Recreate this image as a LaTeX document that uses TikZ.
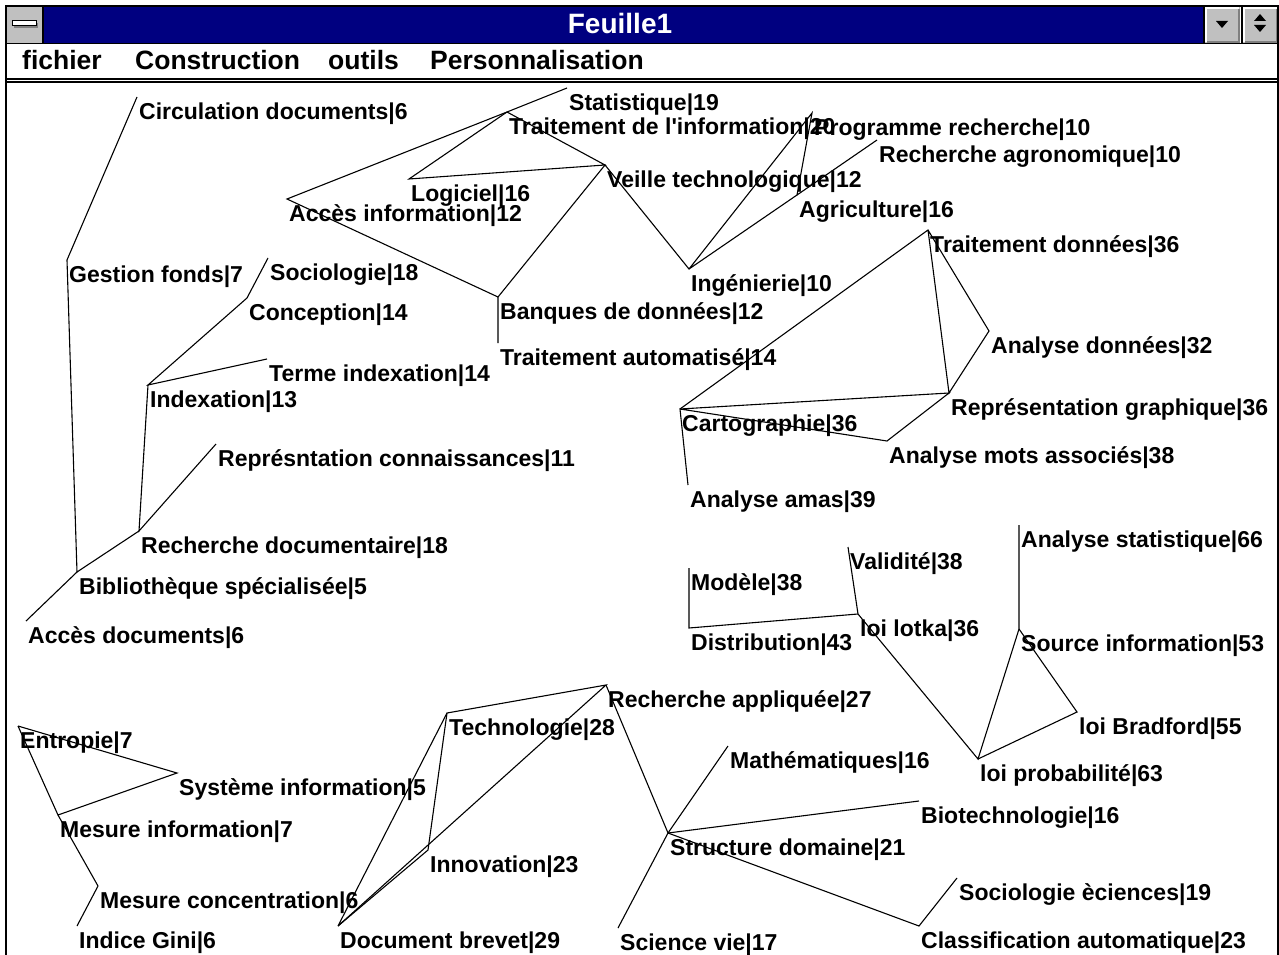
\documentclass[tikz,border=0pt]{standalone}
\usepackage{fontspec}
\setmainfont{Liberation Sans}[Ligatures=TeXOff]
\definecolor{titre}{RGB}{0,0,128}
\definecolor{bouton}{RGB}{192,192,192}
\definecolor{ombre}{RGB}{128,128,128}
\tikzset{
  mot/.style={anchor=north west,inner xsep=2pt,inner ysep=5pt,text height=17pt,text depth=5pt,font=\fontsize{23}{27}\selectfont\bfseries},
  menu/.style={anchor=base west,inner sep=0pt,font=\fontsize{26.5}{30}\selectfont\bfseries},
  lien/.style={line width=1.1pt},
}
\begin{document}
\begin{tikzpicture}[x=1pt,y=-1pt]
\useasboundingbox (0,0) rectangle (1279,955);
\fill[white] (0,0) rectangle (1279,955);
% barre de titre
\fill[titre] (43,6) rectangle (1205,43);
\fill[bouton] (7,7) rectangle (43,43);
\fill[ombre] (14,23) rectangle (38,28);
\filldraw[fill=white,line width=1pt] (12,21) rectangle (36,26);
\foreach \x in {1205,1243}{
  \fill[bouton] (\x,7) rectangle +(35,36);
  \draw[white,line width=2pt] (\x+1,42) -- (\x+1,8) -- (\x+34,8);
  \draw[ombre,line width=2pt] (\x+2,42) -- (\x+34,42) -- (\x+34,9);
}
\fill (1216,21) -- (1228,21) -- (1222,28) -- cycle;
\fill (1254,21) -- (1266,21) -- (1260,14) -- cycle;
\fill (1254,25) -- (1266,25) -- (1260,32) -- cycle;
\node[anchor=base,inner sep=0pt,white,font=\fontsize{28}{32}\selectfont\bfseries] (titre) at (620,34) {Feuille1};
% cadre
\draw[line width=2pt] (6,955) -- (6,6) -- (1278,6) -- (1278,955);
\draw[line width=1.5pt] (43,7) -- (43,43) (1204,7) -- (1204,43) (1242,7) -- (1242,43);
\draw[line width=1.5pt] (6,43.5) -- (1278,43.5);
\draw[line width=1.5pt] (6,79) -- (1278,79);
\draw[line width=1.5pt] (6,82) -- (1278,82);
% menus
\node[menu] (fichier) at (22,70) {fichier};
\node[menu] (constr) at (135,70) {Construction};
\node[menu] (outils) at (328,70) {outils};
\node[menu] (perso) at (430,70) {Personnalisation};
% termes
\node[mot] (circ) at (137,97) {Circulation documents|6};
\node[mot] (gest) at (67,260) {Gestion fonds|7};
\node[mot] (socio) at (268,258) {Sociologie|18};
\node[mot] (concep) at (247,298) {Conception|14};
\node[mot] (termidx) at (267,359) {Terme indexation|14};
\node[mot] (idx) at (148,385) {Indexation|13};
\node[mot] (repcon) at (216,444) {Représntation connaissances|11};
\node[mot] (rechdoc) at (139,531) {Recherche documentaire|18};
\node[mot] (biblio) at (77,572) {Bibliothèque spécialisée|5};
\node[mot] (accdoc) at (26,621) {Accès documents|6};
\node[mot] (stat) at (567,88) {Statistique|19};
\node[mot] (trinfo) at (507,112) {Traitement de l'information|20};
\node[mot] (logic) at (409,179) {Logiciel|16};
\node[mot] (accinfo) at (287,199) {Accès information|12};
\node[mot] (veille) at (605,165) {Veille technologique|12};
\node[mot] (prog) at (812,113) {Programme recherche|10};
\node[mot] (agro) at (877,140) {Recherche agronomique|10};
\node[mot] (agri) at (797,195) {Agriculture|16};
\node[mot] (ingen) at (689,269) {Ingénierie|10};
\node[mot] (banq) at (498,297) {Banques de données|12};
\node[mot] (traut) at (498,343) {Traitement automatisé|14};
\node[mot] (trdon) at (928,230) {Traitement données|36};
\node[mot] (anadon) at (989,331) {Analyse données|32};
\node[mot] (repgr) at (949,393) {Représentation graphique|36};
\node[mot] (carto) at (680,409) {Cartographie|36};
\node[mot] (anamots) at (887,441) {Analyse mots associés|38};
\node[mot] (amas) at (688,485) {Analyse amas|39};
\node[mot] (modele) at (689,568) {Modèle|38};
\node[mot] (distrib) at (689,628) {Distribution|43};
\node[mot] (valid) at (848,547) {Validité|38};
\node[mot] (lotka) at (858,614) {loi lotka|36};
\node[mot] (anastat) at (1019,525) {Analyse statistique|66};
\node[mot] (source) at (1019,629) {Source information|53};
\node[mot] (bradford) at (1077,712) {loi Bradford|55};
\node[mot] (proba) at (978,759) {loi probabilité|63};
\node[mot] (entropie) at (18,726) {Entropie|7};
\node[mot] (sysinf) at (177,773) {Système information|5};
\node[mot] (mesinf) at (58,815) {Mesure information|7};
\node[mot] (mesconc) at (98,886) {Mesure concentration|6};
\node[mot] (gini) at (77,926) {Indice Gini|6};
\node[mot] (rechapp) at (606,685) {Recherche appliquée|27};
\node[mot] (techno) at (447,713) {Technologie|28};
\node[mot] (innov) at (428,850) {Innovation|23};
\node[mot] (brevet) at (338,926) {Document brevet|29};
\node[mot] (math) at (728,746) {Mathématiques|16};
\node[mot] (struct) at (668,833) {Structure domaine|21};
\node[mot] (biotech) at (919,801) {Biotechnologie|16};
\node[mot] (scvie) at (618,928) {Science vie|17};
\node[mot] (socsc) at (957,878) {Sociologie èciences|19};
\node[mot] (classif) at (919,926) {Classification automatique|23};
% liens
\draw[lien] (circ.north west) -- (gest.north west) -- (biblio.north west) -- (accdoc.north west);
\draw[lien] (socio.north west) -- (concep.north west) -- (idx.north west) -- (termidx.north west);
\draw[lien] (idx.north west) -- (rechdoc.north west) -- (repcon.north west);
\draw[lien] (biblio.north west) -- (rechdoc.north west);
\draw[lien] (stat.north west) -- (trinfo.north west) -- (accinfo.north west) -- (banq.north west) -- (traut.north west);
\draw[lien] (trinfo.north west) -- (logic.north west) -- (veille.north west) -- (trinfo.north west);
\draw[lien] (banq.north west) -- (veille.north west) -- (ingen.north west) -- (prog.north west) -- (agri.north west) -- (ingen.north west);
\draw[lien] (agro.north west) -- (agri.north west);
\draw[lien] (carto.north west) -- (trdon.north west) -- (anadon.north west) -- (repgr.north west) -- (trdon.north west);
\draw[lien] (amas.north west) -- (carto.north west) -- (repgr.north west) -- (anamots.north west) -- (carto.north west);
\draw[lien] (modele.north west) -- (distrib.north west) -- (lotka.north west) -- (valid.north west);
\draw[lien] (lotka.north west) -- (proba.north west) -- (source.north west) -- (anastat.north west);
\draw[lien] (source.north west) -- (bradford.north west) -- (proba.north west);
\draw[lien] (entropie.north west) -- (sysinf.north west) -- (mesinf.north west) -- (entropie.north west);
\draw[lien] (mesinf.north west) -- (mesconc.north west) -- (gini.north west);
\draw[lien] (brevet.north west) -- (techno.north west) -- (rechapp.north west) -- (brevet.north west);
\draw[lien] (techno.north west) -- (innov.north west) -- (brevet.north west);
\draw[lien] (rechapp.north west) -- (struct.north west) -- (math.north west);
\draw[lien] (scvie.north west) -- (struct.north west) -- (biotech.north west);
\draw[lien] (struct.north west) -- (classif.north west) -- (socsc.north west);
\end{tikzpicture}
\end{document}
